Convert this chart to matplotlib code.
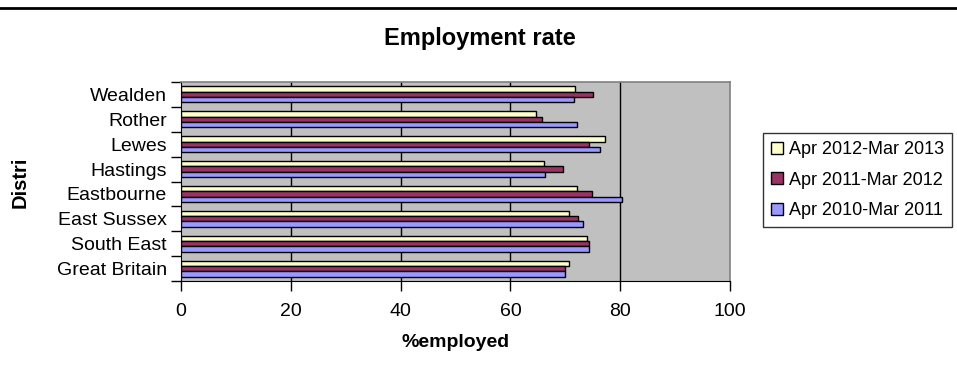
import matplotlib.pyplot as plt
import numpy as np
from matplotlib.lines import Line2D

plt.rcParams['font.family'] = ['Liberation Sans', 'DejaVu Sans']

# Data
districts = ['Great Britain', 'South East', 'East Sussex', 'Eastbourne',
             'Hastings', 'Lewes', 'Rother', 'Wealden']
rate_2012_13 = [70.7, 74.0, 70.7, 72.1, 66.1, 77.3, 64.6, 71.8]
rate_2011_12 = [69.9, 74.3, 72.4, 74.8, 69.6, 74.3, 65.8, 75.1]
rate_2010_11 = [69.9, 74.3, 73.2, 80.3, 66.3, 76.3, 72.1, 71.5]
series_labels = ['Apr 2012-Mar 2013', 'Apr 2011-Mar 2012', 'Apr 2010-Mar 2011']
colors = ['#FFFFCC', '#993366', '#9999FF']
xticks = [0, 20, 40, 60, 80, 100]

fig = plt.figure(figsize=(9.57, 3.77), dpi=100)
ax = fig.add_axes([181 / 957, 1 - 281 / 377, 549 / 957, 199 / 377])
ax.set_facecolor('#C0C0C0')

y = np.arange(len(districts))
h = 0.215
series = [rate_2012_13, rate_2011_12, rate_2010_11]
offsets = [h, 0, -h]
for vals, off, col, lab in zip(series, offsets, colors, series_labels):
    ax.barh(y + off, vals, height=h, color=col, edgecolor='black',
            linewidth=1, label=lab, zorder=3)

ax.set_xlim(0, 100)
ax.set_ylim(-0.5, len(districts) - 0.5)
ax.set_xticks(xticks)
ax.set_xticklabels([str(t) for t in xticks], fontsize=14)
ax.tick_params(axis='x', direction='out', length=7, width=1, pad=9)

# ticks on category boundaries, labels centred on categories
ax.set_yticks(np.arange(len(districts) + 1) - 0.5)
ax.set_yticklabels([])
ax.set_yticks(y, minor=True)
ax.set_yticklabels(districts, minor=True, fontsize=14)
ax.tick_params(axis='y', which='major', direction='out', length=7, width=1)
ax.tick_params(axis='y', which='minor', length=0, pad=10)

for g in xticks[1:-1]:
    ax.axvline(g, color='black', linewidth=1, zorder=1)

ax.spines['left'].set_color('black')
ax.spines['bottom'].set_color('black')
for s in ['top', 'right']:
    ax.spines[s].set_color('#808080')
    ax.spines[s].set_linewidth(1.2)

ax.set_xlabel('%employed', fontsize=14, fontweight='bold', labelpad=10)

fig.text(480 / 957, 1 - 38 / 377, 'Employment rate', fontsize=17,
         fontweight='bold', ha='center', va='center')
fig.text(20 / 957, 1 - 182 / 377, 'Distri', fontsize=14.5, fontweight='bold',
         rotation=90, ha='center', va='center')

# rule across the top
fig.add_artist(Line2D([0, 1], [1 - 7.5 / 377, 1 - 7.5 / 377], color='black',
                      linewidth=2, transform=fig.transFigure))

leg = ax.legend(loc='upper left', bbox_to_anchor=(763 / 957, 1 - 133 / 377),
                bbox_transform=fig.transFigure, borderaxespad=0,
                fontsize=13, frameon=True, fancybox=False,
                handlelength=0.65, handleheight=0.65, handletextpad=0.35,
                labelspacing=0.75, borderpad=0.45)
leg.get_frame().set_edgecolor('black')
leg.get_frame().set_linewidth(1)

fig.savefig('out.png', dpi=100)
